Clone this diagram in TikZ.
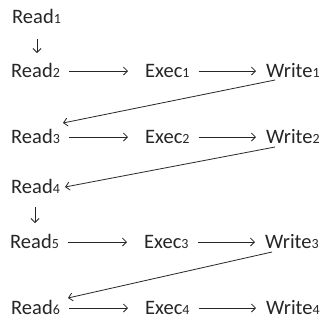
\documentclass[tikz,border=0pt]{standalone}
\usepackage{fontspec}
\setmainfont{Carlito}
\usetikzlibrary{arrows.meta,calc}
\definecolor{txt}{HTML}{262626}
\newcommand\sbs[1]{{\fontsize{14}{14}\selectfont #1}}
\begin{document}
\begin{tikzpicture}[x=1pt,y=-1pt,
  lbl/.style={anchor=base west,inner sep=0pt,text=txt,font=\fontsize{20.5}{21}\selectfont},
  arr/.style={draw=txt,line width=0.8pt,-{Straight Barb[length=4pt,width=8pt]}}]
\useasboundingbox[fill=white] (0,0) rectangle (325,327);
\node[lbl] (r1) at (12,23) {Read\sbs{1}};
\node[lbl] (r2) at (11,77) {Read\sbs{2}};
\node[lbl] (e1) at (145,77) {Exec\sbs{1}};
\node[lbl] (w1) at (266,77) {Write\sbs{1}};
\node[lbl] (r3) at (11,143) {Read\sbs{3}};
\node[lbl] (e2) at (145,143) {Exec\sbs{2}};
\node[lbl] (w2) at (266,143) {Write\sbs{2}};
\node[lbl] (r4) at (11,193) {Read\sbs{4}};
\node[lbl] (r5) at (10,248) {Read\sbs{5}};
\node[lbl] (e3) at (144,248) {Exec\sbs{3}};
\node[lbl] (w3) at (265,248) {Write\sbs{3}};
\node[lbl] (r6) at (11,314) {Read\sbs{6}};
\node[lbl] (e4) at (145,314) {Exec\sbs{4}};
\node[lbl] (w4) at (266,314) {Write\sbs{4}};
% vertical
\draw[arr] ($(r1.base west)+(25,16)$) -- ($(r2.base west)+(26,-24)$);
\draw[arr] ($(r4.base west)+(24,14)$) -- ($(r5.base west)+(25,-25)$);
% horizontal
\foreach \a/\b/\g in {r2/e1/17,e1/w1/10,r3/e2/17,e2/w2/10,r5/e3/17,e3/w3/10,r6/e4/17,e4/w4/10}{
  \draw[arr] ($(\a.base east)+(9,-6)$) -- ($(\b.base west)+(-\g,-6)$);
}
% diagonals
\draw[arr] ($(w1.base west)+(9,3)$) -- ($(r3.base west)+(52,-20)$);
\draw[arr] ($(w2.base west)+(9,4)$) -- ($(r4.base west)+(54,-6)$);
\draw[arr] ($(w3.base west)+(7,4)$) -- ($(r6.base west)+(57,-16)$);
\end{tikzpicture}
\end{document}
